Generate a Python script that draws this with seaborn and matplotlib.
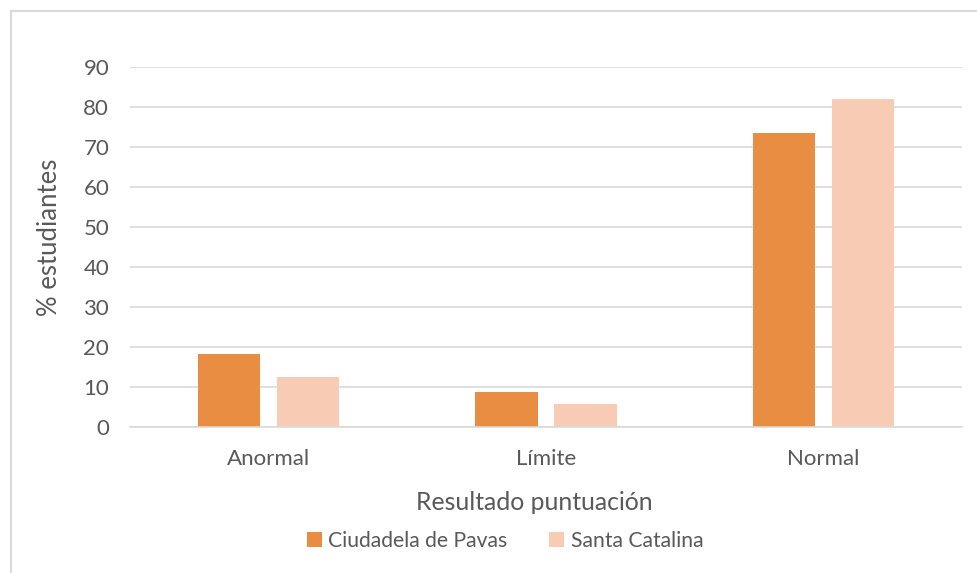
import numpy as np
import pandas as pd
import matplotlib
matplotlib.use('Agg')
import matplotlib.pyplot as plt
from matplotlib.patches import Patch
from matplotlib.lines import Line2D
import seaborn as sns

# ── Data ──────────────────────────────────────────────────────────────────────
categories = ['Anormal', 'Límite', 'Normal']
series = ['Ciudadela de Pavas', 'Santa Catalina']
pavas = [18.2, 8.7, 73.4]
catalina = [12.5, 5.7, 81.9]
yticks = [0, 10, 20, 30, 40, 50, 60, 70, 80, 90]

COLORS = {'Ciudadela de Pavas': '#E88D42', 'Santa Catalina': '#F8CBB4'}
TEXT = '#595959'
GRID = '#D9D9D9'

df = pd.DataFrame({
    'cat': categories * 2,
    'serie': [series[0]] * 3 + [series[1]] * 3,
    'val': pavas + catalina,
})

sns.set_style('white')
plt.rcParams['font.family'] = ['Lato', 'DejaVu Sans']

fig = plt.figure(figsize=(9.77, 5.73), dpi=100)
ax = fig.add_axes([130 / 977, 1 - 427 / 573, (962 - 130) / 977, (427 - 67) / 573])

sns.barplot(data=df, x='cat', y='val', hue='serie', order=categories,
            hue_order=series, palette=COLORS, saturation=1, width=0.57,
            gap=0.215, linewidth=0, legend=False, ax=ax)

ax.set_ylim(0, 90)
ax.set_xlim(-0.5, 2.5)
ax.set_yticks(yticks)
ax.yaxis.grid(True, color=GRID, linewidth=1.2)
ax.set_axisbelow(True)
for s in ['top', 'right', 'left']:
    ax.spines[s].set_visible(False)
ax.spines['bottom'].set_color(GRID)
ax.spines['bottom'].set_linewidth(1.2)
ax.tick_params(axis='both', length=0, labelsize=16, labelcolor=TEXT)
ax.tick_params(axis='y', pad=15)
ax.tick_params(axis='x', pad=16)
ax.set_xlabel('')
ax.set_ylabel('')

fig.text(50 / 977, 1 - 237 / 573, '% estudiantes', rotation=90, ha='center',
         va='center', fontsize=18.5, color=TEXT)
fig.text(534 / 977, 1 - 503 / 573, 'Resultado puntuación', ha='center',
         va='center', fontsize=17.8, color=TEXT)

handles = [Patch(facecolor=COLORS[s], edgecolor='none') for s in series]
fig.legend(handles, series, loc='center', bbox_to_anchor=(505 / 977, 1 - 541 / 573),
           ncol=2, frameon=False, fontsize=15.2, labelcolor=TEXT,
           handlelength=0.7, handleheight=0.7, handletextpad=0.3,
           columnspacing=2.0)

# chart area border (left and top edges visible)
fig.add_artist(Line2D([11 / 977, 11 / 977], [0, 1 - 11 / 573], color=GRID,
                      linewidth=1.5, transform=fig.transFigure))
fig.add_artist(Line2D([11 / 977, 1], [1 - 11 / 573, 1 - 11 / 573], color=GRID,
                      linewidth=1.5, transform=fig.transFigure))

fig.savefig('out.png', dpi=100, facecolor='white')
